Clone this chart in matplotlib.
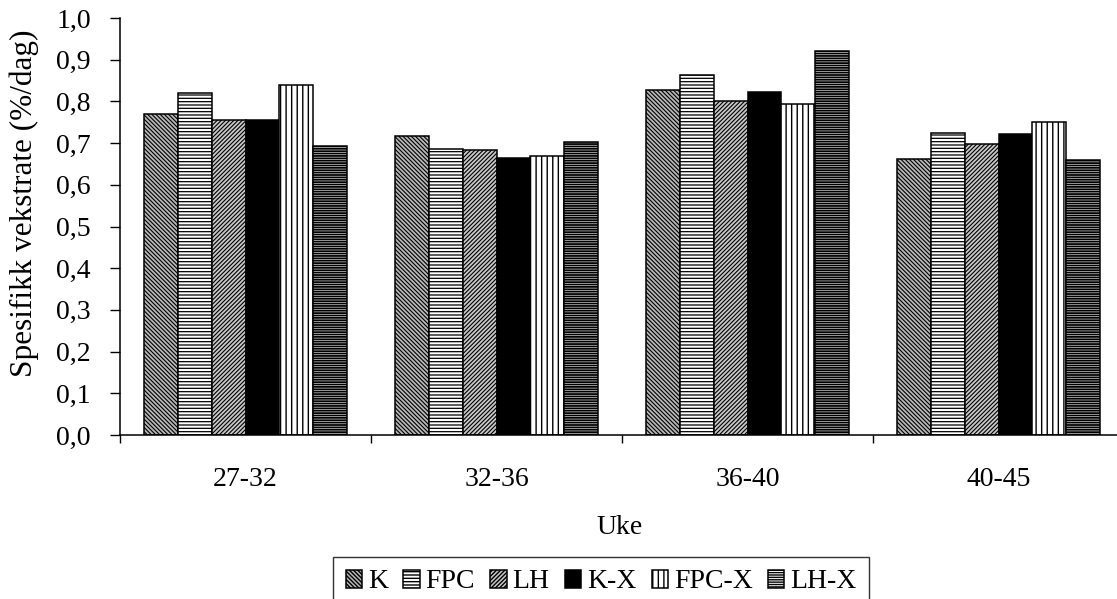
import matplotlib
matplotlib.use("Agg")
import matplotlib.pyplot as plt
import numpy as np

categories = ["27-32", "32-36", "36-40", "40-45"]
series = ["K", "FPC", "LH", "K-X", "FPC-X", "LH-X"]
K = [0.770, 0.716, 0.828, 0.663]
FPC = [0.820, 0.687, 0.863, 0.724]
LH = [0.755, 0.684, 0.800, 0.698]
K_X = [0.755, 0.665, 0.822, 0.722]
FPC_X = [0.839, 0.670, 0.794, 0.751]
LH_X = [0.694, 0.703, 0.920, 0.660]
yticks = [0.0, 0.1, 0.2, 0.3, 0.4, 0.5, 0.6, 0.7, 0.8, 0.9, 1.0]
ytick_labels = ["0,0", "0,1", "0,2", "0,3", "0,4", "0,5", "0,6", "0,7", "0,8", "0,9", "1,0"]

values = [K, FPC, LH, K_X, FPC_X, LH_X]
styles = [
    dict(facecolor="#b8b8b8", hatch="\\" * 8, hlw=0.8),
    dict(facecolor="white", hatch="-----", hlw=0.9),
    dict(facecolor="#c8c8c8", hatch="/" * 8, hlw=0.8),
    dict(facecolor="black", hatch=None, hlw=0.9),
    dict(facecolor="white", hatch="|||", hlw=1.0),
    dict(facecolor="white", hatch="-------", hlw=1.3),
]

plt.rcParams["font.family"] = ["Liberation Serif", "DejaVu Serif"]
plt.rcParams["hatch.color"] = "black"

W, H = 1117, 599
fig = plt.figure(figsize=(W / 100, H / 100), dpi=100)
ax = fig.add_axes([120 / W, 1 - 435 / H, 1004 / W, (435 - 18) / H])

x = np.arange(len(categories))
bw = 0.135
for i, (vals, st) in enumerate(zip(values, styles)):
    offs = (i - 2.5) * bw
    with plt.rc_context({"hatch.linewidth": st["hlw"]}):
        bars = ax.bar(x + offs, vals, width=bw, facecolor=st["facecolor"],
                      edgecolor="black", linewidth=1.1, hatch=st["hatch"],
                      label=series[i])
    for b in bars:
        if hasattr(b, "set_hatch_linewidth"):
            b.set_hatch_linewidth(st["hlw"])

ax.set_xlim(-0.5, 3.5)
ax.set_ylim(0, 1.0)
ax.set_yticks(yticks)
ax.set_yticklabels(ytick_labels, fontsize=20)
ax.tick_params(axis="y", direction="out", length=7, width=1, pad=14)
ax.set_xticks([-0.5, 0.5, 1.5, 2.5, 3.5])
ax.set_xticklabels([])
ax.set_xticks(x, minor=True)
ax.set_xticklabels(categories, minor=True, fontsize=20)
ax.tick_params(axis="x", which="major", direction="out", length=6, width=1)
ax.tick_params(axis="x", which="minor", length=0, pad=23)
for s in ["top", "right"]:
    ax.spines[s].set_visible(False)
for s in ["left", "bottom"]:
    ax.spines[s].set_linewidth(1.1)

fig.text(620 / W, 1 - 528 / H, "Uke", fontsize=20, ha="center", va="center")
fig.text(24 / W, 1 - 203 / H, "Spesifikk vekstrate (%/dag)", fontsize=22.5,
         rotation=90, ha="center", va="center")

leg = fig.legend(loc="upper center", bbox_to_anchor=(601 / W, 1 - 557 / H),
                 ncol=6, fontsize=20, frameon=True, fancybox=False,
                 handlelength=0.6, handleheight=0.6, handletextpad=0.2,
                 columnspacing=0.55, borderpad=0.45, borderaxespad=0)
leg.get_frame().set_edgecolor("black")
leg.get_frame().set_linewidth(1.0)

fig.savefig("out.png", dpi=100)
